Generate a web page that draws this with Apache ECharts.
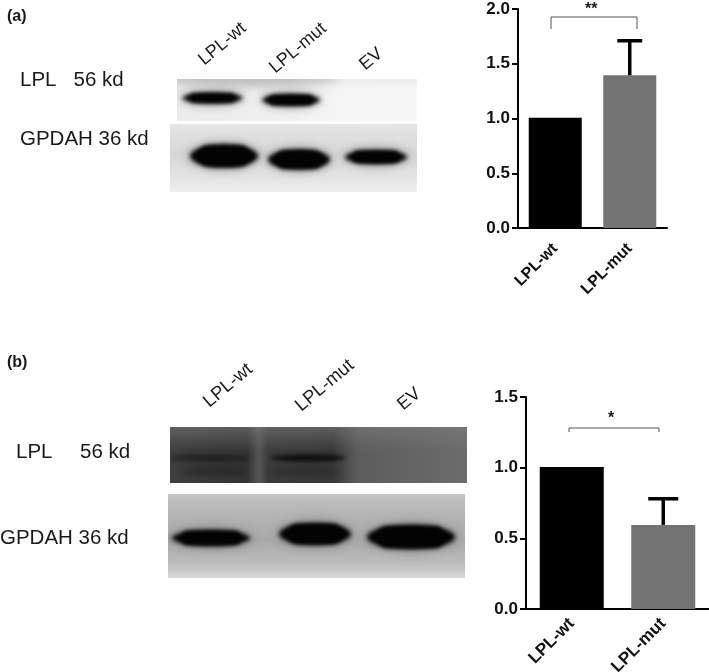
<!DOCTYPE html>
<html>
<head>
<meta charset="utf-8">
<style>
  html, body { margin: 0; padding: 0; background: #fff; }
  #container { width: 709px; height: 672px; }
</style>
<script src="https://cdn.jsdelivr.net/npm/echarts@6/dist/echarts.min.js"></script>
</head>
<body>
<div id="container"></div>
<script>
let categories = ['LPL-wt', 'LPL-mut'];
let valuesA = [1.007, 1.395];
let errorTopA = [1.007, 1.71];
let ticksA = [0, 0.5, 1.0, 1.5, 2.0];
let valuesB = [1.005, 0.595];
let errorTopB = [1.005, 0.78];
let ticksB = [0, 0.5, 1.0, 1.5];
let barColors = ['#000000', '#737373'];

const FONT = '"Liberation Sans", Arial, sans-serif';

// the blots are photographs in the original, so they are painted on a small canvas and placed as images
function gel(x, y, w, h, paint) {
  let c = document.createElement('canvas');
  c.width = w;
  c.height = h;
  let ctx = c.getContext('2d');
  ctx.translate(-x, -y);
  paint(ctx);
  return { type: 'image', silent: true, style: { image: c, x: x, y: y, width: w, height: h } };
}
function fillH(ctx, x, y, w, h, stops) {
  let g = ctx.createLinearGradient(x, 0, x + w, 0);
  stops.forEach(s => g.addColorStop(s[0], s[1]));
  ctx.fillStyle = g;
  ctx.fillRect(x, y, w, h);
}
function fillV(ctx, x, y, w, h, stops) {
  let g = ctx.createLinearGradient(0, y, 0, y + h);
  stops.forEach(s => g.addColorStop(s[0], s[1]));
  ctx.fillStyle = g;
  ctx.fillRect(x, y, w, h);
}
function blob(ctx, cx, cy, rx, ry, color, blur) {
  ctx.save();
  ctx.filter = 'blur(' + blur + 'px)';
  ctx.fillStyle = color;
  ctx.beginPath();
  ctx.ellipse(cx, cy, rx, ry, 0, 0, Math.PI * 2);
  ctx.fill();
  ctx.restore();
}
// soft halo first, then the dark core of the band with tapered ends
function band(ctx, cx, cy, rx, ry) {
  blob(ctx, cx, cy, rx + 3, ry + 4, 'rgba(70,70,70,0.4)', 4);
  ctx.save();
  ctx.filter = 'blur(2px)';
  ctx.fillStyle = '#030303';
  ctx.beginPath();
  ctx.ellipse(cx, cy, rx + 1, ry + 0.5, 0, 0, Math.PI * 2);
  ctx.fill();
  ctx.beginPath();
  ctx.roundRect(cx - rx * 0.8, cy - ry, rx * 1.6, ry * 2, ry);
  ctx.fill();
  ctx.restore();
}

function txt(x, y, text, size, weight, rotate) {
  return {
    type: 'text', x: x, y: y, rotation: (rotate || 0) * Math.PI / 180, silent: true,
    style: { text: text, fill: '#1a1a1a', font: (weight || 'normal') + ' ' + size + 'px ' + FONT, textVerticalAlign: 'middle' }
  };
}
function bracket(x1, x2, top, bottom) {
  return {
    type: 'polyline', silent: true,
    shape: { points: [[x1, bottom], [x1, top], [x2, top], [x2, bottom]] },
    style: { stroke: '#555', lineWidth: 1, fill: null }
  };
}

let blots = [
  gel(177, 79, 240, 42, ctx => {
    fillH(ctx, 177, 79, 240, 42, [[0, '#ebebeb'], [0.4, '#f0f0f0'], [0.7, '#f5f5f5'], [1, '#f7f7f7']]);
    blob(ctx, 250, 78, 90, 9, 'rgba(170,170,170,0.7)', 5);
    blob(ctx, 395, 80, 60, 3, 'rgba(225,225,225,0.7)', 3);
    band(ctx, 212.5, 98, 29, 4.5);
    band(ctx, 291, 100, 28, 5);
  }),
  gel(170, 124, 247, 68, ctx => {
    fillV(ctx, 170, 124, 247, 68, [[0, '#e6e6e6'], [0.45, '#d6d6d6'], [0.8, '#e4e4e4'], [1, '#f0f0f0']]);
    band(ctx, 224, 156, 33, 10.5);
    band(ctx, 299, 159.5, 30, 9);
    band(ctx, 376, 157, 30, 6);
  }),
  gel(170, 427, 297, 56, ctx => {
    fillH(ctx, 170, 427, 297, 56, [[0, '#3e3e3e'], [0.26, '#343434'], [0.3, '#565656'], [0.33, '#3c3c3c'], [0.55, '#383838'], [0.63, '#5c5c5c'], [1, '#6c6c6c']]);
    fillV(ctx, 170, 427, 297, 24, [[0, 'rgba(125,125,125,0.55)'], [1, 'rgba(125,125,125,0)']]);
    blob(ctx, 210, 458, 40, 3, 'rgba(15,15,15,0.7)', 2.5);
    blob(ctx, 215, 471, 34, 4, 'rgba(25,25,25,0.5)', 3);
    blob(ctx, 308, 458, 38, 3.5, 'rgba(5,5,5,0.85)', 2.2);
    blob(ctx, 305, 472, 36, 5, 'rgba(30,30,30,0.4)', 3);
  }),
  gel(168, 494, 297, 84, ctx => {
    fillV(ctx, 168, 494, 297, 84, [[0, '#c6c6c6'], [0.15, '#b8b8b8'], [0.55, '#a9a9a9'], [0.85, '#bebebe'], [1, '#d8d8d8']]);
    band(ctx, 211, 538, 38, 7);
    band(ctx, 315, 534, 35, 10);
    band(ctx, 411, 537, 43, 11);
  }),
  // text
  txt(7, 17, '(a)', 16, 'bold'),
  txt(20, 80, 'LPL   56 kd', 20.5),
  txt(20, 139, 'GPDAH 36 kd', 20.5),
  txt(201, 62, 'LPL-wt', 18, 'normal', 40),
  txt(272, 70, 'LPL-mut', 18, 'normal', 40),
  txt(362, 67, 'EV', 18, 'normal', 40),
  txt(7, 363, '(b)', 16, 'bold'),
  txt(16, 452, 'LPL', 20.5),
  txt(80, 452, '56 kd', 20.5),
  txt(0, 538, 'GPDAH 36 kd', 20.5),
  txt(206, 404, 'LPL-wt', 18.5, 'normal', 40),
  txt(298, 408, 'LPL-mut', 18.5, 'normal', 40),
  txt(400, 407, 'EV', 18, 'normal', 40),
  // significance brackets
  bracket(551, 637, 17, 29),
  txt(585, 10, '**', 16, 'bold'),
  bracket(569, 659, 428, 432),
  txt(608, 419, '*', 16, 'bold')
];

function errorSeries(axisIndex, tops, values, capHalf) {
  return {
    type: 'custom',
    xAxisIndex: axisIndex,
    yAxisIndex: axisIndex,
    z: 5,
    silent: true,
    data: categories.map((c, i) => [i, values[i], tops[i]]),
    renderItem(params, api) {
      let bottom = api.coord([api.value(0), api.value(1)]);
      let top = api.coord([api.value(0), api.value(2)]);
      if (api.value(2) <= api.value(1)) return null;
      let st = { stroke: '#000', lineWidth: 3.5 };
      return {
        type: 'group',
        children: [
          { type: 'line', shape: { x1: bottom[0], y1: bottom[1], x2: top[0], y2: top[1] }, style: st },
          { type: 'line', shape: { x1: top[0] - capHalf, y1: top[1], x2: top[0] + capHalf, y2: top[1] }, style: st }
        ]
      };
    }
  };
}

function barSeries(axisIndex, values, width) {
  return {
    type: 'bar',
    xAxisIndex: axisIndex,
    yAxisIndex: axisIndex,
    barWidth: width,
    silent: true,
    data: values.map((v, i) => ({ value: v, itemStyle: { color: barColors[i] } }))
  };
}

function xAxis(gridIndex, size, margin) {
  return {
    type: 'category', gridIndex: gridIndex, data: categories,
    axisLine: { lineStyle: { color: '#000', width: 2 } },
    axisTick: { alignWithLabel: true, length: 6, lineStyle: { color: '#000', width: 2 } },
    axisLabel: { rotate: 45, color: '#111', fontFamily: FONT, fontWeight: 'bold', fontSize: size, margin: margin, interval: 0 }
  };
}
function yAxis(gridIndex, ticks) {
  return {
    type: 'value', gridIndex: gridIndex, min: ticks[0], max: ticks[ticks.length - 1], interval: 0.5,
    axisLine: { show: true, lineStyle: { color: '#000', width: 2 } },
    axisTick: { show: true, length: 6, lineStyle: { color: '#000', width: 2 } },
    splitLine: { show: false },
    axisLabel: { color: '#111', fontFamily: FONT, fontWeight: 'bold', fontSize: 17, margin: 8, formatter: v => v.toFixed(1) }
  };
}

let option = {
  animation: false,
  backgroundColor: '#fff',
  grid: [
    { left: 518, top: 9, width: 149, height: 219, outerBoundsMode: 'none' },
    { left: 526, top: 397, width: 183, height: 212, outerBoundsMode: 'none' }
  ],
  xAxis: [xAxis(0, 16, 18), xAxis(1, 17, 12)],
  yAxis: [yAxis(0, ticksA), yAxis(1, ticksB)],
  series: [
    barSeries(0, valuesA, 53),
    errorSeries(0, errorTopA, valuesA, 12.5),
    barSeries(1, valuesB, 64),
    errorSeries(1, errorTopB, valuesB, 15)
  ],
  graphic: { elements: blots }
};

let myChart = echarts.init(document.getElementById('container'), null, { renderer: 'canvas' });
myChart.setOption(option);
</script>
</body>
</html>
